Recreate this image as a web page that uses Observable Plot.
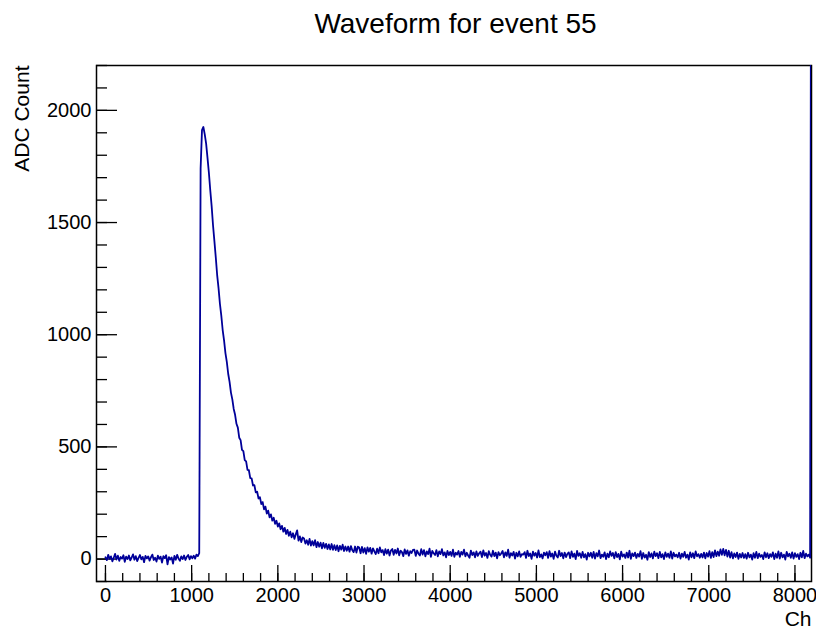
<!DOCTYPE html>
<html>
<head>
<meta charset="utf-8">
<script src="https://cdn.jsdelivr.net/npm/d3@7"></script>
<script src="https://cdn.jsdelivr.net/npm/@observablehq/plot@0.6"></script>
<style>
  body { margin: 0; background: #ffffff; }
  #chart svg { display: block; }
</style>
</head>
<body>
<div id="chart"></div>
<script>
// Digitizer waveform, event 55: one ADC sample every `step` channels.
const title = "Waveform for event 55";
const xLabel = "Ch";
const yLabel = "ADC Count";

const step = 16;
const adc = [
  8, -5, 19, 1, 12, -10, 6, 23, -2, 15, -8, 9, 2, 17, -12, 11,
  0, 16, -6, 7, 21, -3, 13, -9, 5, 18, -1, 10, -14, 14, 3, 12,
  -7, 8, 20, -4, 6, -11, 15, 1, 11, -16, 13, 4, 17, -24, 9, -2,
  7, -20, 14, -3, 19, 2, -8, 12, 0, 16, -4, 10, 18, -1, 13, 3,
  15, 2, 20, 13, 26, 1740, 1912, 1926, 1893, 1852, 1788, 1722, 1644, 1573, 1488, 1417,
  1345, 1266, 1208, 1138, 1085, 1021, 975, 918, 879, 826, 790, 742, 712, 669, 643, 603,
  586, 541, 530, 487, 481, 441, 435, 398, 396, 361, 360, 328, 329, 297, 300, 270,
  276, 245, 254, 222, 234, 203, 216, 186, 199, 171, 184, 157, 171, 145, 159, 133,
  148, 122, 139, 112, 130, 104, 122, 97, 115, 90, 110, 128, 82, 101, 76, 96,
  92, 69, 84, 64, 90, 60, 80, 61, 84, 53, 76, 55, 73, 48, 72, 50,
  68, 45, 65, 43, 67, 41, 62, 40, 61, 35, 59, 42, 64, 36, 56, 37,
  56, 33, 58, 39, 31, 56, 29, 55, 51, 26, 54, 29, 49, 23, 52, 33,
  50, 24, 48, 34, 22, 46, 26, 52, 30, 40, 18, 44, 24, 42, 16, 38,
  45, 19, 41, 25, 47, 17, 37, 31, 13, 43, 23, 39, 15, 35, 27, 41,
  42, 14, 38, 24, 16, 44, 20, 40, 12, 34, 22, 46, 10, 36, 26, 18,
  40, 12, 34, 22, 44, 16, 30, 8, 36, 18, 32, 14, 42, 10, 28, 20,
  36, 10, 32, 20, 42, 12, 28, 16, 6, 38, 18, 30, 8, 34, 14, 26,
  33, 9, 39, 15, 27, 5, 35, 19, 11, 37, 13, 29, 3, 31, 17, 25,
  36, 8, 30, 14, 42, 6, 26, 16, 32, 2, 28, 12, 34, 10, 22, 20,
  31, 5, 37, 13, 25, 1, 33, 15, 27, 7, 39, 9, 21, 3, 29, 17,
  31, 5, 35, 11, 25, 1, 33, 15, 7, 37, 13, 27, 3, 29, 9, 23,
  30, 4, 34, 10, 24, 0, 36, 14, 26, 6, 32, 8, 22, -2, 28, 12,
  28, 6, 32, 2, 26, 12, 38, 4, 20, 10, 30, 0, 24, 8, 34, 14,
  27, 3, 31, 9, 23, -1, 33, 11, 21, 5, 29, 7, 37, 1, 25, 13,
  29, 5, 23, 11, 35, 1, 27, 7, 19, -3, 31, 9, 25, 3, 33, 13,
  26, 4, 32, 8, 22, 0, 30, 10, 24, 6, 34, 2, 28, 12, 20, 8,
  28, 2, 24, 10, 32, 6, 20, -2, 30, 8, 26, 4, 34, 12, 22, 6,
  23, 7, 29, 3, 27, 11, 35, 5, 31, 9, 39, 13, 33, 15, 43, 19,
  45, 17, 41, 11, 37, 7, 31, 3, 25, 9, 29, 1, 23, 7, 27, 5,
  22, 2, 28, 8, 20, -2, 26, 6, 32, 4, 24, 10, 18, 0, 30, 8,
  26, 4, 22, 10, 30, 0, 24, 6, 34, 2, 28, 8, 20, -2, 32, 12,
  24, 6, 30, 2, 26, 10, 22, 0, 28, 8, 36, 4, 24, 12, 20, 6
];
// The final channel reads out saturated.
const lastChannel = 8191;
const lastAdc = 4095;

const xDomain = [-104, 8192];
const yDomain = [-100, 2200];
const xTicks = [0, 1000, 2000, 3000, 4000, 5000, 6000, 7000, 8000];
const yTicks = [0, 500, 1000, 1500, 2000];
const xMinorTicks = d3.range(0, 8001, 200);
const yMinorTicks = d3.range(-100, 2201, 100);

const samples = adc.map((v, i) => ({channel: i * step, adc: v}));
samples.push({channel: lastChannel, adc: lastAdc});

const W = 816, H = 628;
const ml = 96, mr = 5, mt = 65, mb = 47;
const fw = W - ml - mr, fh = H - mt - mb;
const fmt = d3.format("d");

const chart = Plot.plot({
  width: W,
  height: H,
  marginLeft: ml,
  marginRight: mr,
  marginTop: mt,
  marginBottom: mb,
  style: {
    fontFamily: "'Liberation Sans', Arial, Helvetica, sans-serif",
    background: "#ffffff",
    color: "#000000",
    overflow: "visible"
  },
  x: {domain: xDomain, label: null},
  y: {domain: yDomain, label: null},
  marks: [
    Plot.frame({stroke: "#000000", strokeWidth: 1.5}),
    // inward-pointing ticks along the bottom and left edges
    Plot.tickX(xMinorTicks, {x: d => d, insetTop: fh - 8, stroke: "#000000", strokeWidth: 1.3}),
    Plot.tickX(xTicks, {x: d => d, insetTop: fh - 16, stroke: "#000000", strokeWidth: 1.3}),
    Plot.tickY(yMinorTicks, {y: d => d, insetRight: fw - 11, stroke: "#000000", strokeWidth: 1.3}),
    Plot.tickY(yTicks, {y: d => d, insetRight: fw - 21, stroke: "#000000", strokeWidth: 1.3}),
    Plot.axisX({ticks: xTicks, tickSize: 0, tickPadding: 6, fontSize: 20, label: null, tickFormat: fmt}),
    Plot.axisY({ticks: yTicks, tickSize: 0, tickPadding: 5, fontSize: 20, label: null, tickFormat: fmt}),
    Plot.line(samples, {x: "channel", y: "adc", stroke: "#000099", strokeWidth: 1.8, clip: true}),
    Plot.text([title], {text: d => d, frameAnchor: "top", dy: -41.7, dx: 1.5, fontSize: 28, lineAnchor: "middle", fill: "#000000"}),
    Plot.text([yLabel], {text: d => d, frameAnchor: "top-left", rotate: -90, textAnchor: "end", lineAnchor: "middle", dx: -74, fontSize: 21, fill: "#000000"}),
    Plot.text([xLabel], {text: d => d, frameAnchor: "bottom-right", textAnchor: "end", lineAnchor: "middle", dy: 37.3, fontSize: 21, fill: "#000000"})
  ]
});

document.getElementById("chart").appendChild(chart);
</script>
</body>
</html>
